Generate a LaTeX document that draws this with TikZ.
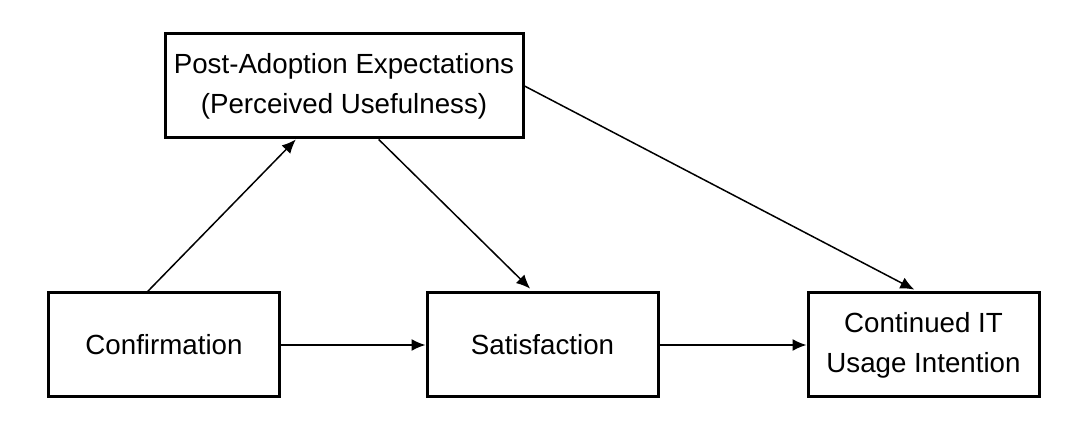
\documentclass[tikz,border=0pt]{standalone}
\usepackage{fontspec}
\setmainfont{Liberation Sans}
\usetikzlibrary{arrows.meta}

\begin{document}
\begin{tikzpicture}[x=0.5pt, y=-0.5pt,
	box/.style={draw, line width=1.5pt, inner sep=0pt, minimum height=52pt, align=center,
		font=\fontsize{13.85}{20}\selectfont},
	link/.style={line width=0.75pt, -{Latex[length=7pt, width=6pt]}}]

	\useasboundingbox (0, 0) rectangle (1067, 426);

	\node[box, minimum width=179pt] (expect) at (344, 86) {Post-Adoption Expectations\\(Perceived Usefulness)};
	\node[box, minimum width=115.5pt] (confirm) at (164, 345) {Confirmation};
	\node[box, minimum width=115.5pt] (satisf) at (542.5, 345) {Satisfaction};
	\node[box, minimum width=115.5pt] (intent) at (923.5, 345) {Continued IT\\Usage Intention};

	\draw[link] (confirm.107) -- (expect.228.5);
	\draw[link, shorten >=2pt] (expect.303) -- (satisf.100.4);
	\draw[link, shorten >=2pt] (expect.east) -- (intent.96);
	\draw[link] (confirm.east) -- (satisf.west);
	\draw[link] (satisf.east) -- (intent.west);

\end{tikzpicture}
\end{document}
